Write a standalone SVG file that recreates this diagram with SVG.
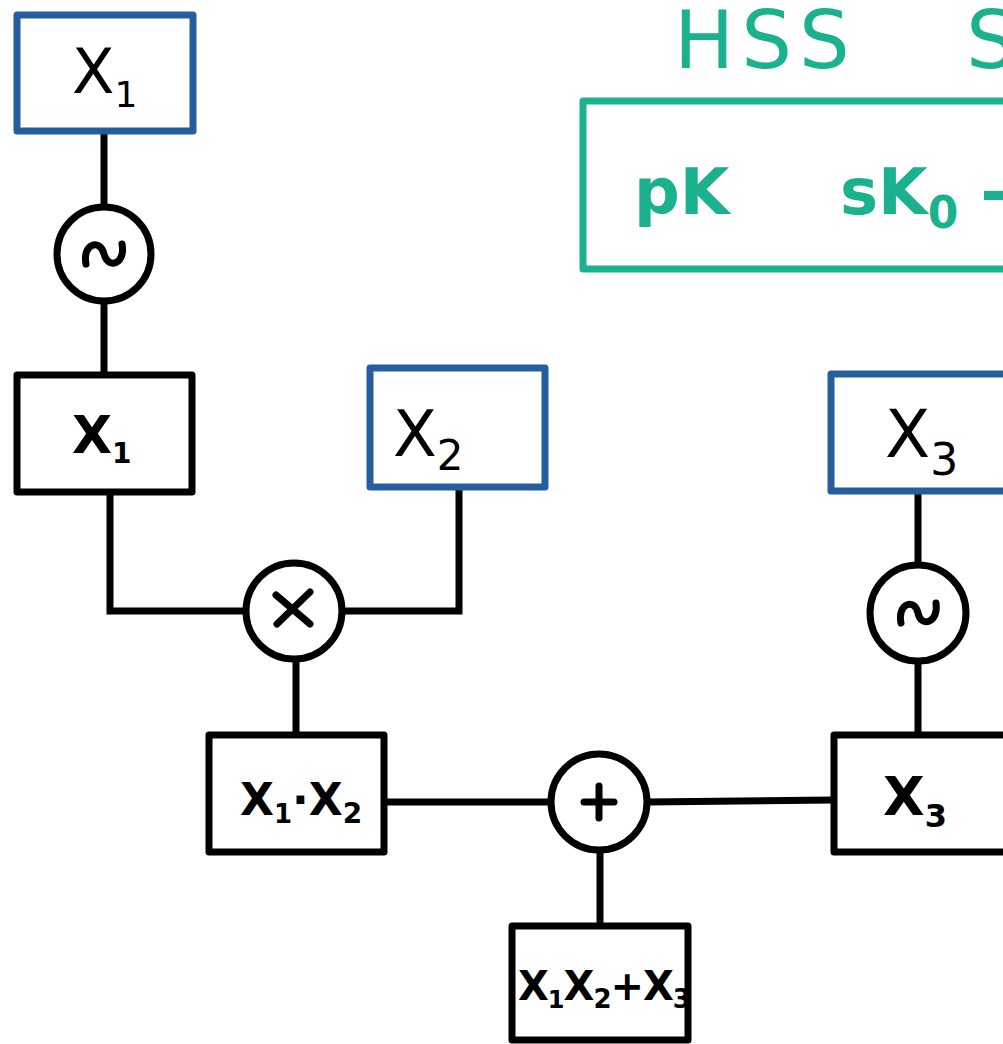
<svg xmlns="http://www.w3.org/2000/svg" width="1003" height="1044" viewBox="0 0 1003 1044">
  <style>
    .box { fill: #ffffff; stroke: #000000; stroke-width: 7; stroke-linejoin: round; }
    .in { fill: #ffffff; stroke: #245e9c; stroke-width: 7; stroke-linejoin: round; }
    .op { fill: #ffffff; stroke: #000000; stroke-width: 7; }
    .sym { fill: none; stroke: #000000; stroke-width: 7; stroke-linecap: round; stroke-linejoin: round; }
    .wire { fill: none; stroke: #000000; stroke-width: 7; stroke-linecap: butt; stroke-linejoin: miter; }
    .lbl { font-family: "DejaVu Sans", "Liberation Sans", sans-serif; fill: #000000; }
    .teal { font-family: "DejaVu Sans", "Liberation Sans", sans-serif; fill: #1bb18f; }
    .key { fill: #ffffff; stroke: #1bb18f; stroke-width: 7; stroke-linejoin: round; }
  </style>

  <rect width="1003" height="1044" fill="#ffffff"/>

  <!-- wires between nodes -->
  <g id="connectors">
    <path class="wire" d="M104 131 V207"/>
    <path class="wire" d="M104 302 V375"/>
    <path class="wire" d="M110 492 V611 H246"/>
    <path class="wire" d="M342 611 H459 V488"/>
    <path class="wire" d="M296 659 V735"/>
    <path class="wire" d="M384 802 H552"/>
    <path class="wire" d="M647 802 L833 800"/>
    <path class="wire" d="M918 491 V566"/>
    <path class="wire" d="M918 661 V735"/>
    <path class="wire" d="M600 850 V925"/>
  </g>

  <!-- key panel -->
  <g id="title">
    <text class="teal" x="674" y="68" font-size="80" letter-spacing="7">HSS</text>
    <text class="teal" x="966" y="68" font-size="80">S</text>
  </g>
  <g id="keys">
    <rect class="key" x="583" y="101" width="440" height="168"/>
    <text class="teal" x="634" y="214" font-size="64" font-weight="bold">pK</text>
    <text class="teal" x="840" y="214" font-size="64" font-weight="bold">sK<tspan font-size="44" dy="14">0</tspan><tspan dy="-14"> -</tspan></text>
  </g>

  <!-- input X1 -->
  <g id="in-x1">
    <rect class="in" x="17" y="15" width="176" height="116"/>
    <text class="lbl" x="72" y="93" font-size="62">X<tspan font-size="36" dy="14">1</tspan></text>
  </g>

  <!-- encode X1 -->
  <g id="enc-x1">
    <circle class="op" cx="104" cy="254" r="47"/>
    <path class="sym" d="M86 264 C82 244 100 238 104 254 C108 270 126 264 122 244"/>
  </g>

  <!-- ciphertext x1 -->
  <g id="ct-x1">
    <rect class="box" x="17" y="375" width="175" height="117"/>
    <text class="lbl" x="72" y="453" font-size="52" font-weight="bold">X<tspan font-size="28" dy="10">1</tspan></text>
  </g>

  <!-- input X2 -->
  <g id="in-x2">
    <rect class="in" x="370" y="368" width="175" height="119"/>
    <text class="lbl" x="393" y="456" font-size="64">X<tspan font-size="42" dy="14">2</tspan></text>
  </g>

  <!-- multiply -->
  <g id="mul">
    <circle class="op" cx="294" cy="611" r="48"/>
    <path class="sym" d="M276 595 L310 624 M310 592 L277 624"/>
  </g>

  <!-- product x1·x2 -->
  <g id="prod">
    <rect class="box" x="209" y="735" width="175" height="117"/>
    <text class="lbl" x="240" y="815" font-size="44" font-weight="bold">X<tspan font-size="26" dy="8">1</tspan><tspan dy="-8">·X</tspan><tspan font-size="28" dy="8">2</tspan></text>
  </g>

  <!-- add -->
  <g id="add">
    <circle class="op" cx="599" cy="802" r="48"/>
    <path class="sym" d="M599 786 V818 M584 802 H614"/>
  </g>

  <!-- input X3 -->
  <g id="in-x3">
    <rect class="in" x="831" y="374" width="190" height="117"/>
    <text class="lbl" x="885" y="457" font-size="66">X<tspan font-size="44" dy="18">3</tspan></text>
  </g>

  <!-- encode X3 -->
  <g id="enc-x3">
    <circle class="op" cx="918" cy="613" r="48"/>
    <path class="sym" d="M901 623 C897 603 915 598 918 613 C921 628 939 623 936 603"/>
  </g>

  <!-- ciphertext x3 -->
  <g id="ct-x3">
    <rect class="box" x="834" y="735" width="190" height="117"/>
    <text class="lbl" x="883" y="815" font-size="54" font-weight="bold">X<tspan font-size="32" dy="12">3</tspan></text>
  </g>

  <!-- result x1x2+x3 -->
  <g id="result">
    <rect class="box" x="512" y="926" width="176" height="114"/>
    <text class="lbl" x="518" y="1000" font-size="40" font-weight="bold" letter-spacing="-1">X<tspan font-size="24" dy="8">1</tspan><tspan dy="-8">X</tspan><tspan font-size="26" dy="8">2</tspan><tspan dy="-8">+X</tspan><tspan font-size="26" dy="8">3</tspan></text>
  </g>
</svg>
